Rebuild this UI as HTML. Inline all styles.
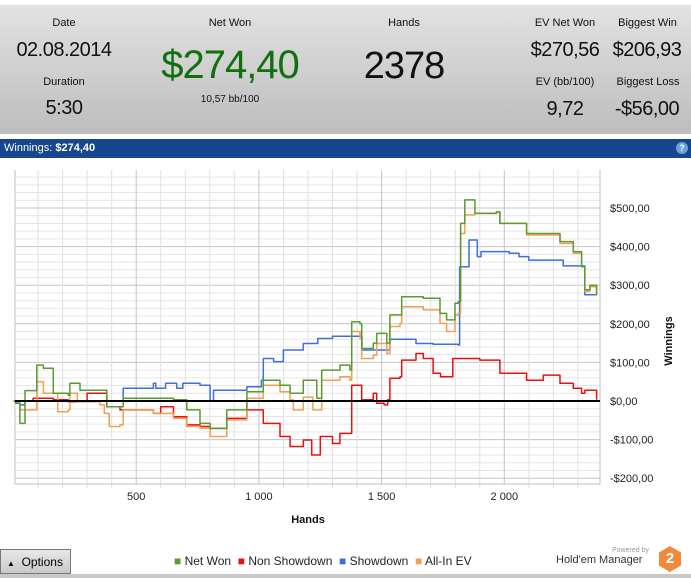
<!DOCTYPE html>
<html><head><meta charset="utf-8"><style>
*{margin:0;padding:0;box-sizing:border-box}
body{width:691px;height:578px;overflow:hidden;background:#fff;font-family:"Liberation Sans",sans-serif;position:relative}
.hdr{position:absolute;left:0;top:4px;width:691px;height:130px;background:linear-gradient(#e2e2e2,#bdbdbd);border-top:1px solid #f4f4f4}
.t{position:absolute;text-align:center;white-space:nowrap;color:#111}
.lbl{font-size:11px}
.val{font-size:20px;letter-spacing:-0.5px}
.bar{position:absolute;left:0;top:139px;width:691px;height:19px;background:#17468e;color:#fff;font-size:11px;padding:3px 4px}
.foot{position:absolute;left:0;top:546px;width:691px;height:32px;background:#fff}
</style></head><body>
<div class="hdr">
 <div class="t lbl" style="left:24px;top:12px;width:80px">Date</div>
 <div class="t val" style="left:4px;top:34px;width:120px">02.08.2014</div>
 <div class="t lbl" style="left:24px;top:71px;width:80px">Duration</div>
 <div class="t val" style="left:24px;top:92px;width:80px">5:30</div>
 <div class="t lbl" style="left:180px;top:12px;width:100px">Net Won</div>
 <div class="t" style="left:140px;top:38px;width:180px;font-size:40px;letter-spacing:-1px;color:#107010">$274,40</div>
 <div class="t" style="left:180px;top:89px;width:100px;font-size:10px">10,57 bb/100</div>
 <div class="t lbl" style="left:364px;top:12px;width:80px">Hands</div>
 <div class="t" style="left:344px;top:40px;width:120px;font-size:38px;letter-spacing:-1px">2378</div>
 <div class="t lbl" style="left:515px;top:12px;width:100px">EV Net Won</div>
 <div class="t val" style="left:510px;top:34px;width:110px">$270,56</div>
 <div class="t lbl" style="left:605px;top:12px;width:85px">Biggest Win</div>
 <div class="t val" style="left:602px;top:34px;width:90px">$206,93</div>
 <div class="t lbl" style="left:515px;top:71px;width:100px">EV (bb/100)</div>
 <div class="t val" style="left:515px;top:93px;width:100px">9,72</div>
 <div class="t lbl" style="left:603px;top:71px;width:90px">Biggest Loss</div>
 <div class="t val" style="left:602px;top:93px;width:90px">-$56,00</div>
</div>
<div class="bar">Winnings: <b>$274,40</b>
 <span style="position:absolute;right:3px;top:3px;width:12px;height:12px;border-radius:6px;background:#6fa0d8;font-size:9px;text-align:center;line-height:12px;font-weight:bold">?</span></div>
<svg id="chart" width="691" height="390" style="position:absolute;left:0;top:158px"></svg>
<div class="foot">
 <div style="position:absolute;left:0;top:3px;width:71px;height:25px;background:linear-gradient(#e8e8e8,#c8c8c8);border:1px solid #777;font-size:12px;padding:5px 0 0 6px"><span style="font-size:8px">▲</span>&nbsp; Options</div>
 <div style="position:absolute;left:174px;top:8px;font-size:12px;color:#222;white-space:nowrap">
  <span><span style="color:#5a9a32">■</span> Net Won</span>&nbsp;
  <span><span style="color:#e81010">■</span> Non Showdown</span>&nbsp;
  <span><span style="color:#3d6fe0">■</span> Showdown</span>&nbsp;
  <span><span style="color:#f0a050">■</span> All-In EV</span></div>
 <div style="position:absolute;left:556px;top:8px;font-size:11px;color:#333;white-space:nowrap"><span style="position:absolute;left:56px;top:-7px;font-size:7px;color:#999">Powered by</span>Hold'em Manager</div>
 <div style="position:absolute;left:659px;top:0px;width:22px;height:26px;background:#f08a3a;clip-path:polygon(50% 0,100% 25%,100% 75%,50% 100%,0 75%,0 25%);color:#fff;font-weight:bold;font-size:15px;text-align:center;line-height:26px">2</div>
 <div style="position:absolute;left:0;top:28px;width:691px;height:4px;background:#c8c8c8"></div>
</div>
<script>
const xTicks=[500,1000,1500,2000];
const yTicks=[500,400,300,200,100,0,-100,-200];
const yTickLabels=["$500,00","$400,00","$300,00","$200,00","$100,00","$0,00","-$100,00","-$200,00"];
const netWonHands=[0,9,26,47,80,95,122,162,223,230,271,352,380,434,447,570,652,706,760,801,869,951,1018,1086,1127,1181,1236,1256,1330,1371,1378,1412,1419,1466,1480,1521,1534,1575,1582,1670,1738,1765,1799,1812,1822,1839,1873,1880,1968,1982,2091,2159,2227,2281,2315,2328,2349,2376];
const netWonValues=[0,-6,-58,27,27,93,85,20,15,46,28,28,-15,-15,7,7,3,-23,-58,-71,-23,24,54,41,20,54,7,80,93,80,205,200,136,150,175,150,223,223,270,266,227,210,253,257,460,521,521,486,490,460,434,434,413,387,348,288,300,274];
const nonShowdownHands=[0,80,122,162,223,271,300,380,434,570,600,652,706,760,801,869,951,1018,1086,1127,1181,1215,1250,1300,1330,1371,1378,1412,1419,1466,1480,1510,1525,1534,1575,1582,1640,1670,1710,1740,1790,1900,1968,1982,2091,2159,2227,2281,2315,2328,2349,2376];
const nonShowdownValues=[0,7,7,3,-2,-2,20,-15,-23,-32,-15,-41,-62,-66,-71,-45,-23,-58,-92,-118,-101,-140,-92,-110,-84,-84,41,41,3,20,-6,-10,3,59,63,106,123,110,72,63,110,106,106,72,54,67,46,33,20,28,28,3];
const showdownHands=[0,26,47,434,447,570,580,620,665,690,760,801,815,951,1010,1018,1060,1100,1181,1240,1300,1419,1420,1480,1534,1630,1640,1710,1812,1818,1850,1856,1880,1890,1905,2020,2060,2100,2210,2240,2315,2328,2376];
const showdownValues=[0,-10,0,0,33,46,33,46,33,46,41,0,28,37,54,110,102,132,149,162,168,167,132,132,160,160,149,147,145,348,348,417,417,374,387,383,374,365,365,350,350,275,275];
const allInEvHands=[0,9,26,47,95,122,162,180,223,230,260,352,370,390,434,447,570,652,706,760,801,869,951,1018,1086,1127,1140,1181,1220,1236,1256,1330,1371,1378,1412,1419,1466,1480,1521,1534,1575,1582,1670,1738,1765,1799,1812,1822,1839,1880,1968,1982,2091,2159,2227,2281,2315,2328,2349,2376];
const allInEvValues=[0,-2,-23,-23,50,20,20,-28,-23,20,-2,-10,-32,-66,-62,-23,-32,-45,-66,-71,-92,-49,7,41,24,3,-23,10,-23,-23,54,63,54,180,162,110,119,149,123,193,201,244,236,201,180,223,227,434,482,486,490,460,430,430,408,383,348,284,296,274];

const NS="http://www.w3.org/2000/svg";
const svg=document.getElementById('chart');
const L=15,R=600,T=12,B=326;
const X=h=>13.5+h*0.2454;
const Y=v=>243-v*0.386;
function mk(tag,attrs){const e=document.createElementNS(NS,tag);for(const k in attrs)e.setAttribute(k,attrs[k]);svg.appendChild(e);return e;}
for(let v=-200;v<=600;v+=20){const y=Y(v);if(y<T||y>B)continue;
 const g=mk('line',{x1:L,x2:R,y1:y,y2:y,stroke:v%100===0?'#c4c4c4':'#e6e6e6','stroke-width':1});
 
 }
for(let h=100;h<2400;h+=100){const x=X(h);
 const g=mk('line',{x1:x,x2:x,y1:T,y2:B+(h%500===0?0:4),stroke:h%500===0?'#c4c4c4':'#e0e0e0','stroke-width':1});
 
 }
const frame=mk('path',{d:`M${L} ${T} V${B} H${R} V${T}`,fill:'none',stroke:'#c0c0c0'});


xTicks.forEach(h=>{const t=mk('text',{x:X(h),y:B+16,'text-anchor':'middle','font-size':11,fill:'#222'});t.textContent=h>=1000?String(h).replace(/(\d)(\d{3})$/,'$1 $2'):h;
 
 });
yTicks.forEach((v,i)=>{const t=mk('text',{x:610,y:Y(v)+4,'font-size':11,fill:'#222'});t.textContent=yTickLabels[i];
 
 });
const xt=mk('text',{x:308,y:365,'text-anchor':'middle','font-size':11,'font-weight':'bold',fill:'#111'});xt.textContent='Hands';


const yt=mk('text',{x:0,y:0,'text-anchor':'middle','font-size':11,'font-weight':'bold',fill:'#111',transform:'translate(672,183) rotate(-90)'});yt.textContent='Winnings';


function series(hs,vs,color,name){
 let d='M'+X(hs[0]).toFixed(1)+' '+Y(vs[0]).toFixed(1);
 for(let i=1;i<hs.length;i++){d+=' H'+X(hs[i]).toFixed(1)+' V'+Y(vs[i]).toFixed(1);}
 const p=mk('path',{d:d,fill:'none',stroke:color,'stroke-width':1.5,'stroke-linejoin':'round'});
 
 }
series(showdownHands,showdownValues,'#3d6fe0','showdown-line');
series(nonShowdownHands,nonShowdownValues,'#e81010','non-showdown-line');
series(allInEvHands,allInEvValues,'#f0a050','all-in-ev-line');
series(netWonHands,netWonValues,'#5a9a32','net-won-line');
const z=mk('line',{x1:L,x2:R,y1:Y(0),y2:Y(0),stroke:'#000','stroke-width':2});


</script>
</body></html>
